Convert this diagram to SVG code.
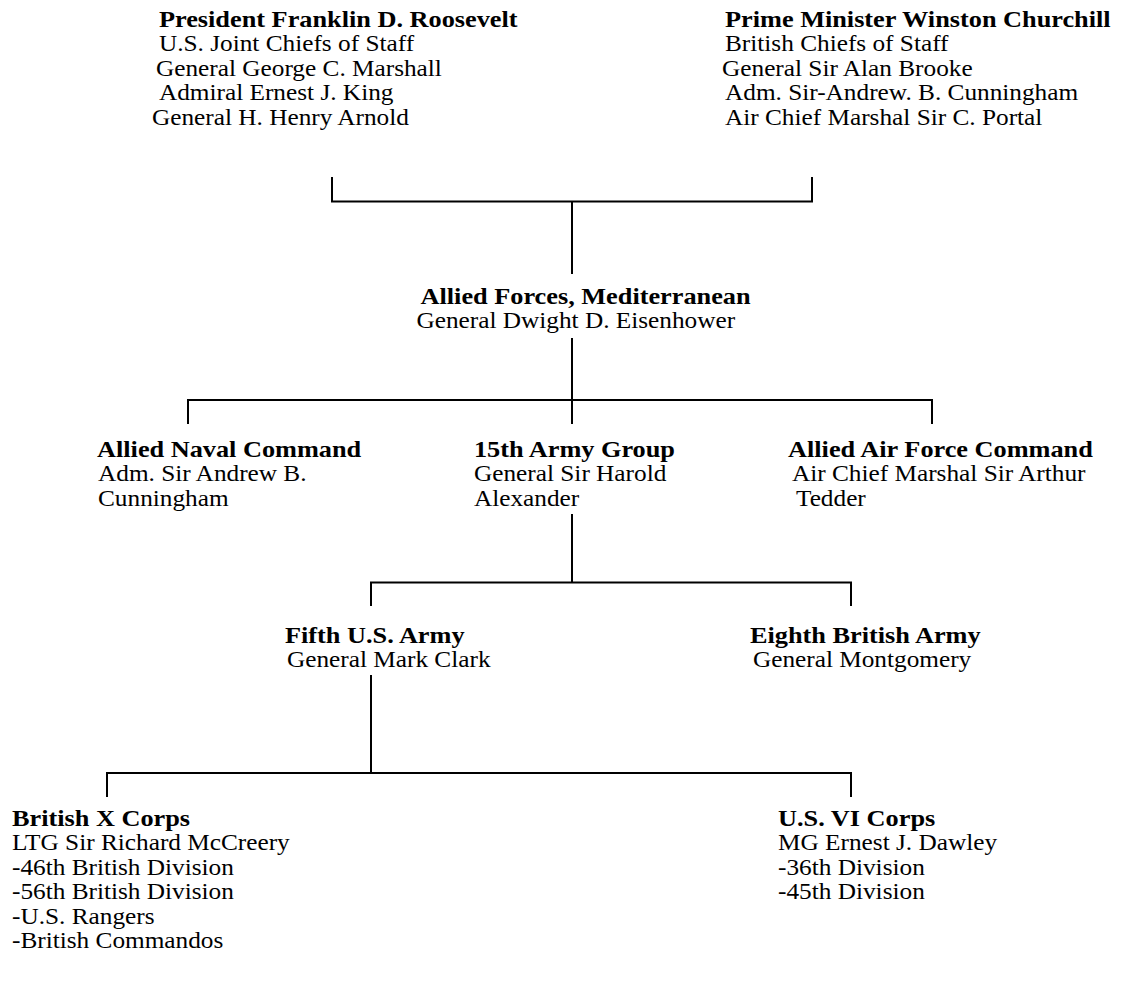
<svg xmlns="http://www.w3.org/2000/svg" width="1121" height="983" viewBox="0 0 1121 983">
<style>
text{font-family:"Liberation Serif","Times New Roman",serif;font-size:23px;fill:#000}
.b{font-weight:bold;font-size:23.9px}
.c{fill:none;stroke:#000;stroke-width:2}
.n{transform:scale(1.1,1)}
</style>
<rect width="1121" height="983" fill="#fff"/>
<g id="connectors" class="c">
<path d="M332 177V201.5H812V177M572 201.5V274"/>
<path d="M572 338V400M188 424V400H932V424M572 400V424"/>
<path d="M572 514V582.5M371 606V582.5H851V606"/>
<path d="M371 675V773M107 797V773H851V797"/>
</g>
<g id="roosevelt" class="n">
<text class="b" x="144.5" y="27">President Franklin D. Roosevelt</text>
<text x="144.5" y="51.5">U.S. Joint Chiefs of Staff</text>
<text x="141.8" y="76">General George C. Marshall</text>
<text x="144.5" y="100.5">Admiral Ernest J. King</text>
<text x="138.2" y="125">General H. Henry Arnold</text>
</g>
<g id="churchill" class="n">
<text class="b" x="659.1" y="27">Prime Minister Winston Churchill</text>
<text x="659.1" y="51.5">British Chiefs of Staff</text>
<text x="656.4" y="76">General Sir Alan Brooke</text>
<text x="659.1" y="100.5">Adm. Sir-Andrew. B. Cunningham</text>
<text x="659.1" y="125">Air Chief Marshal Sir C. Portal</text>
</g>
<g id="eisenhower" class="n">
<text class="b" x="382.3" y="304">Allied Forces, Mediterranean</text>
<text x="378.6" y="328.5">General Dwight D. Eisenhower</text>
</g>
<g id="naval" class="n">
<text class="b" x="88.2" y="457">Allied Naval Command</text>
<text x="89.1" y="481.5">Adm. Sir Andrew B.</text>
<text x="89.1" y="506">Cunningham</text>
</g>
<g id="armygroup" class="n">
<text class="b" x="430.9" y="457">15th Army Group</text>
<text x="430.9" y="481.5">General Sir Harold</text>
<text x="430.9" y="506">Alexander</text>
</g>
<g id="airforce" class="n">
<text class="b" x="716.4" y="457">Allied Air Force Command</text>
<text x="720" y="481.5">Air Chief Marshal Sir Arthur</text>
<text x="723.6" y="506">Tedder</text>
</g>
<g id="fifth" class="n">
<text class="b" x="259.1" y="643">Fifth U.S. Army</text>
<text x="260.9" y="667.5">General Mark Clark</text>
</g>
<g id="eighth" class="n">
<text class="b" x="681.8" y="643">Eighth British Army</text>
<text x="684.5" y="667.5">General Montgomery</text>
</g>
<g id="xcorps" class="n">
<text class="b" x="10.9" y="826">British X Corps</text>
<text x="10.9" y="850.5">LTG Sir Richard McCreery</text>
<text x="10.9" y="875">-46th British Division</text>
<text x="10.9" y="899.5">-56th British Division</text>
<text x="10.9" y="924">-U.S. Rangers</text>
<text x="10.9" y="948.5">-British Commandos</text>
</g>
<g id="vicorps" class="n">
<text class="b" x="707.3" y="826">U.S. VI Corps</text>
<text x="707.3" y="850.5">MG Ernest J. Dawley</text>
<text x="707.3" y="875">-36th Division</text>
<text x="707.3" y="899.5">-45th Division</text>
</g>
</svg>
